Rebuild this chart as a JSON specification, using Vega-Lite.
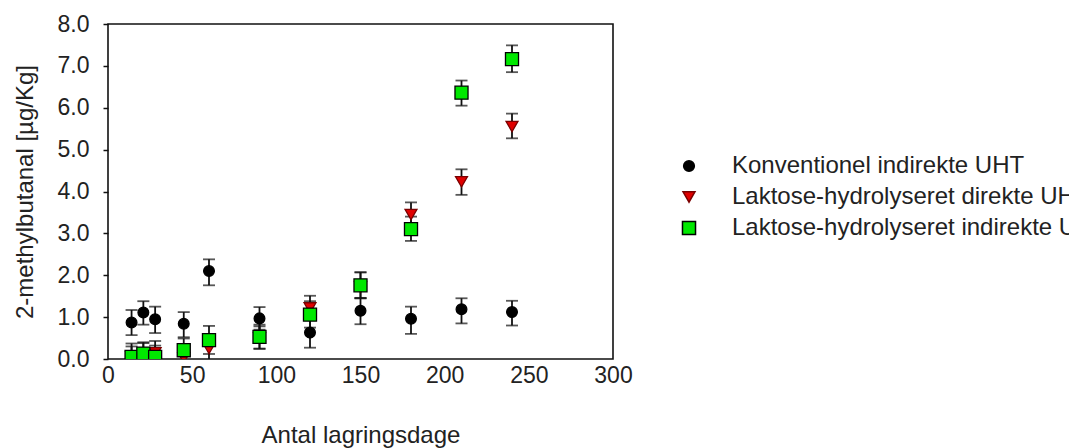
{
  "$schema": "https://vega.github.io/schema/vega-lite/v6.json",
  "autosize": "none",
  "padding": {"left": 108, "top": 24, "right": 456, "bottom": 89},
  "width": 505,
  "height": 335,
  "background": "white",
  "config": {
    "view": {"stroke": "#111", "strokeWidth": 1.6},
    "font": "Liberation Sans",
    "axis": {"grid": false, "domain": false, "labelFont": "Liberation Sans", "titleFont": "Liberation Sans", "labelFontSize": 23, "titleFontSize": 24, "titleFontWeight": "normal", "labelColor": "#222", "titleColor": "#222"}
  },
  "data": {
    "values": [
      {"day": 14, "group": "Konventionel indirekte UHT", "mean": 0.87, "lo": 0.57, "hi": 1.17},
      {"day": 21, "group": "Konventionel indirekte UHT", "mean": 1.11, "lo": 0.82, "hi": 1.38},
      {"day": 28, "group": "Konventionel indirekte UHT", "mean": 0.95, "lo": 0.62, "hi": 1.25},
      {"day": 45, "group": "Konventionel indirekte UHT", "mean": 0.84, "lo": 0.52, "hi": 1.12},
      {"day": 60, "group": "Konventionel indirekte UHT", "mean": 2.1, "lo": 1.76, "hi": 2.38},
      {"day": 90, "group": "Konventionel indirekte UHT", "mean": 0.97, "lo": 0.7, "hi": 1.24},
      {"day": 120, "group": "Konventionel indirekte UHT", "mean": 0.63, "lo": 0.27, "hi": 0.98},
      {"day": 150, "group": "Konventionel indirekte UHT", "mean": 1.15, "lo": 0.83, "hi": 1.46},
      {"day": 180, "group": "Konventionel indirekte UHT", "mean": 0.96, "lo": 0.6, "hi": 1.25},
      {"day": 210, "group": "Konventionel indirekte UHT", "mean": 1.19, "lo": 0.85, "hi": 1.45},
      {"day": 240, "group": "Konventionel indirekte UHT", "mean": 1.12, "lo": 0.8, "hi": 1.39},
      {"day": 14, "group": "Laktose-hydrolyseret direkte UHT", "mean": 0.05, "lo": -0.2, "hi": 0.3},
      {"day": 21, "group": "Laktose-hydrolyseret direkte UHT", "mean": 0.12, "lo": -0.15, "hi": 0.38},
      {"day": 28, "group": "Laktose-hydrolyseret direkte UHT", "mean": 0.15, "lo": -0.12, "hi": 0.43},
      {"day": 45, "group": "Laktose-hydrolyseret direkte UHT", "mean": 0.03, "lo": -0.25, "hi": 0.3},
      {"day": 60, "group": "Laktose-hydrolyseret direkte UHT", "mean": 0.25, "lo": -0.05, "hi": 0.55},
      {"day": 90, "group": "Laktose-hydrolyseret direkte UHT", "mean": 0.5, "lo": 0.25, "hi": 0.78},
      {"day": 120, "group": "Laktose-hydrolyseret direkte UHT", "mean": 1.22, "lo": 0.93, "hi": 1.51},
      {"day": 150, "group": "Laktose-hydrolyseret direkte UHT", "mean": 1.72, "lo": 1.45, "hi": 2.07},
      {"day": 180, "group": "Laktose-hydrolyseret direkte UHT", "mean": 3.45, "lo": 3.15, "hi": 3.74},
      {"day": 210, "group": "Laktose-hydrolyseret direkte UHT", "mean": 4.23, "lo": 3.92, "hi": 4.53},
      {"day": 240, "group": "Laktose-hydrolyseret direkte UHT", "mean": 5.55, "lo": 5.27, "hi": 5.86},
      {"day": 14, "group": "Laktose-hydrolyseret indirekte UHT", "mean": 0.05, "lo": -0.25, "hi": 0.37},
      {"day": 21, "group": "Laktose-hydrolyseret indirekte UHT", "mean": 0.13, "lo": -0.15, "hi": 0.4},
      {"day": 28, "group": "Laktose-hydrolyseret indirekte UHT", "mean": 0.05, "lo": -0.2, "hi": 0.32},
      {"day": 45, "group": "Laktose-hydrolyseret indirekte UHT", "mean": 0.21, "lo": -0.05, "hi": 0.49},
      {"day": 60, "group": "Laktose-hydrolyseret indirekte UHT", "mean": 0.45, "lo": 0.12, "hi": 0.79},
      {"day": 90, "group": "Laktose-hydrolyseret indirekte UHT", "mean": 0.53, "lo": 0.24, "hi": 0.82},
      {"day": 120, "group": "Laktose-hydrolyseret indirekte UHT", "mean": 1.06, "lo": 0.75, "hi": 1.38},
      {"day": 150, "group": "Laktose-hydrolyseret indirekte UHT", "mean": 1.76, "lo": 1.45, "hi": 2.07},
      {"day": 180, "group": "Laktose-hydrolyseret indirekte UHT", "mean": 3.1, "lo": 2.82, "hi": 3.4},
      {"day": 210, "group": "Laktose-hydrolyseret indirekte UHT", "mean": 6.36, "lo": 6.05, "hi": 6.65},
      {"day": 240, "group": "Laktose-hydrolyseret indirekte UHT", "mean": 7.16, "lo": 6.85, "hi": 7.49}
    ]
  },
  "encoding": {
    "x": {
      "field": "day", "type": "quantitative",
      "scale": {"domain": [0, 300], "nice": false, "zero": false},
      "axis": {"values": [0, 50, 100, 150, 200, 250, 300], "ticks": false, "labelPadding": 5, "title": "Antal lagringsdage", "titlePadding": 36, "labelFlush": false}
    }
  },
  "layer": [
    {
      "mark": {"type": "rule", "color": "#111", "strokeWidth": 1.8, "clip": true},
      "encoding": {
        "y": {"field": "lo", "type": "quantitative", "scale": {"domain": [0, 8], "nice": false}},
        "y2": {"field": "hi"}
      }
    },
    {
      "mark": {"type": "tick", "orient": "horizontal", "color": "#111", "size": 12, "thickness": 1.8, "clip": true},
      "encoding": {"y": {"field": "hi", "type": "quantitative"}}
    },
    {
      "mark": {"type": "tick", "orient": "horizontal", "color": "#111", "size": 12, "thickness": 1.8, "clip": true},
      "encoding": {"y": {"field": "lo", "type": "quantitative"}}
    },
    {
      "mark": {"type": "point", "filled": true, "opacity": 1, "strokeWidth": 1.3, "clip": true},
      "encoding": {
        "y": {
          "field": "mean", "type": "quantitative",
          "scale": {"domain": [0, 8], "nice": false},
          "axis": {
            "values": [0, 0.5, 1, 1.5, 2, 2.5, 3, 3.5, 4, 4.5, 5, 5.5, 6, 6.5, 7, 7.5, 8],
            "labelExpr": "datum.value % 1 == 0 ? format(datum.value, '.1f') : ''",
            "tickSize": 5, "tickWidth": 1.5, "tickColor": "#111", "labelPadding": 14,
            "title": "2-methylbutanal [µg/Kg]", "titlePadding": 20
          }
        },
        "color": {
          "field": "group", "type": "nominal",
          "scale": {"domain": ["Konventionel indirekte UHT", "Laktose-hydrolyseret direkte UHT", "Laktose-hydrolyseret indirekte UHT"], "range": ["#000000", "#e00000", "#00e800"]},
          "legend": {
            "orient": "none", "legendX": 569, "legendY": 130, "title": null,
            "labelFont": "Liberation Sans", "labelFontSize": 24, "labelColor": "#222",
            "labelOffset": 31, "rowPadding": 7, "symbolSize": 120, "padding": 0, "labelLimit": 0
          }
        },
        "shape": {
          "field": "group", "type": "nominal",
          "scale": {"domain": ["Konventionel indirekte UHT", "Laktose-hydrolyseret direkte UHT", "Laktose-hydrolyseret indirekte UHT"], "range": ["circle", "triangle-down", "square"]}
        },
        "stroke": {
          "field": "group", "type": "nominal",
          "scale": {"domain": ["Konventionel indirekte UHT", "Laktose-hydrolyseret direkte UHT", "Laktose-hydrolyseret indirekte UHT"], "range": ["#000000", "#7a0000", "#000000"]}
        },
        "size": {
          "field": "group", "type": "nominal", "legend": null,
          "scale": {"domain": ["Konventionel indirekte UHT", "Laktose-hydrolyseret direkte UHT", "Laktose-hydrolyseret indirekte UHT"], "range": [115, 170, 140]}
        }
      }
    }
  ]
}
